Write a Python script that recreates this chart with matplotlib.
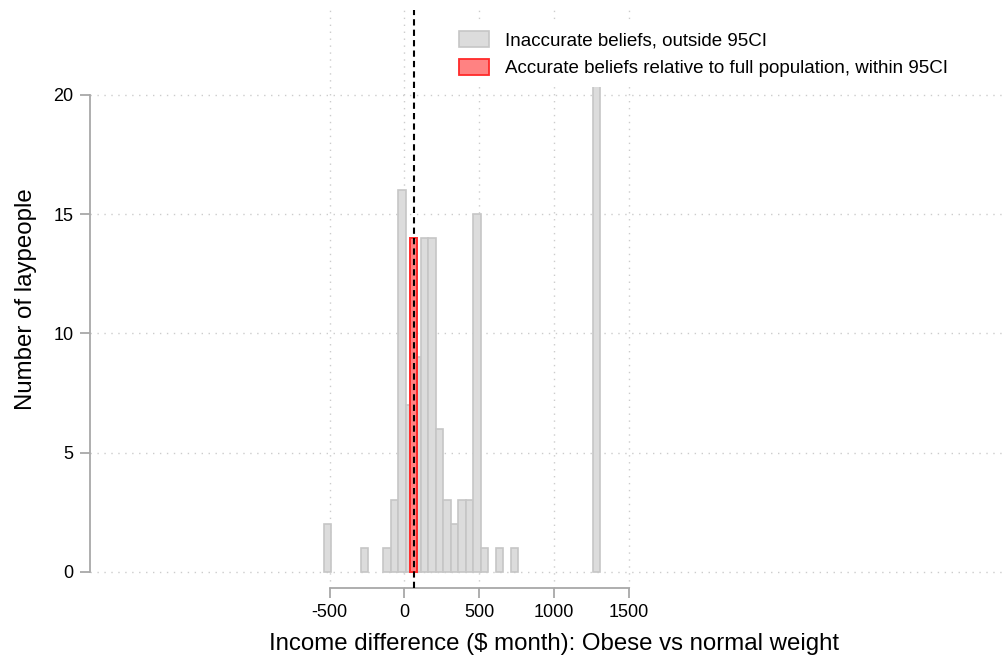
import matplotlib
matplotlib.use("Agg")
import matplotlib.pyplot as plt
from matplotlib.patches import Patch

plt.rcParams['font.family'] = ['Liberation Sans', 'DejaVu Sans']

# Datos del histograma (ancho de bin = 50)
bin_width = 50
bin_left = [-540, -290, -140, -90, -40, 10, 60, 110, 160, 210, 260, 310,
            360, 410, 460, 510, 610, 710, 1260]
counts = [2, 1, 1, 3, 16, 7, 9, 14, 14, 6, 3, 2, 3, 3, 15, 1, 1, 1, 22]

# Creencias dentro del IC 95%
acc_left = [35]
acc_counts = [14]

true_value = 65

x_ticks = [-500, 0, 500, 1000, 1500]
y_ticks = [0, 5, 10, 15, 20]

fig = plt.figure(figsize=(10.05, 6.62), dpi=100)
ax = fig.add_axes([0.0896, 0.1122, 0.9085, 0.8727])

ax.bar(bin_left, counts, width=bin_width, align='edge',
       color='#dcdcdc', edgecolor='#c6c6c6', linewidth=1.2, zorder=2)
ax.bar(acc_left, acc_counts, width=bin_width, align='edge',
       color='#ff8282', edgecolor='#ff2a2a', linewidth=1.4, zorder=3)

ax.axvline(true_value, color='black', linewidth=1.5,
           linestyle=(0, (3, 2)), zorder=4)

ax.set_xlim(-2100, 4000)
ax.set_ylim(-0.66, 23.56)
ax.set_xticks(x_ticks)
ax.set_yticks(y_ticks)
ax.set_xticklabels([str(t) for t in x_ticks], fontsize=13)
ax.set_yticklabels([str(t) for t in y_ticks], fontsize=13)

ax.grid(True, color='#cccccc', linestyle=(0, (1, 4)), linewidth=1)
ax.set_axisbelow(True)

for s in ['top', 'right']:
    ax.spines[s].set_visible(False)
for s in ['left', 'bottom']:
    ax.spines[s].set_color('#a8a8a8')
    ax.spines[s].set_linewidth(1.3)
ax.spines['left'].set_bounds(0, 20)
ax.spines['bottom'].set_bounds(-500, 1500)
ax.tick_params(axis='both', colors='#a8a8a8', labelcolor='black',
               length=7, width=1.3, pad=5)

ax.set_xlabel("Income difference ($ month): Obese vs normal weight",
              fontsize=17.25, labelpad=8)
ax.xaxis.label.set_x(0.508)
ax.set_ylabel("Number of laypeople", fontsize=17.25, labelpad=12)

handles = [
    Patch(facecolor='#dcdcdc', edgecolor='#c6c6c6', linewidth=1.2),
    Patch(facecolor='#ff8282', edgecolor='#ff2a2a', linewidth=1.3),
]
labels = ["Inaccurate beliefs, outside 95CI",
          "Accurate beliefs relative to full population, within 95CI"]
leg = ax.legend(handles, labels, loc='upper left',
                bbox_to_anchor=(450 / 1005, 1 - 22 / 662),
                bbox_transform=fig.transFigure, fontsize=13.5,
                frameon=True, facecolor='white', edgecolor='none',
                framealpha=1, fancybox=False, borderaxespad=0,
                handlelength=1.6, handleheight=0.9, handletextpad=0.85,
                labelspacing=0.5, borderpad=0.5)
leg.set_zorder(6)

fig.savefig("out.png", dpi=100)
